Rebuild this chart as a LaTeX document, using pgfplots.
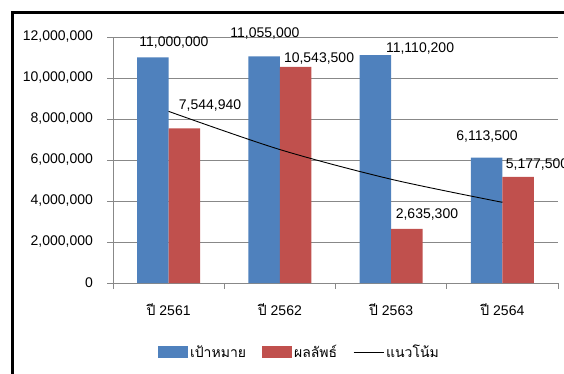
\documentclass[border=0pt]{standalone}
\usepackage{pgfplots}
\pgfplotsset{compat=1.18}
\usepackage{fontspec}
\setmainfont{Liberation Sans}
\newfontfamily\thaifont[Script=Thai]{Loma}
\definecolor{barblue}{HTML}{4F81BD}
\definecolor{barred}{HTML}{C0504D}
\definecolor{gridgray}{HTML}{888888}
\newcommand{\lblfont}{\fontsize{14bp}{16bp}\selectfont}
\begin{document}
\begin{tikzpicture}
\begin{axis}[
  anchor=south west,
  width=445bp, height=246bp, scale only axis,
  xmin=-0.5, xmax=3.5, ymin=0, ymax=12000000,
  clip=false,
  axis x line*=bottom, axis y line*=left,
  axis line style={gridgray, line width=0.9bp, -},
  xtick={-0.5,0.5,1.5,2.5,3.5},
  x tick label as interval,
  xticklabels={{{\thaifont ปี} 2561},{{\thaifont ปี} 2562},{{\thaifont ปี} 2563},{{\thaifont ปี} 2564}},
  x tick label style={yshift=-12bp},
  ytick={0,2000000,4000000,6000000,8000000,10000000,12000000},
  scaled y ticks=false,
  /pgf/number format/assume math mode=true,
  y tick label style={/pgf/number format/fixed,/pgf/number format/1000 sep={,}, xshift=-11bp},
  tick label style={font=\lblfont},
  tick align=outside,
  major tick length=5.5bp,
  tick style={gridgray, line width=0.9bp},
  ymajorgrids,
  grid style={gridgray, line width=0.9bp},
  legend style={at={(0.419,-0.2805)}, anchor=center, draw=none, fill=none,
    legend columns=3, font=\thaifont\lblfont,
    /tikz/every even column/.append style={column sep=14bp}},
]
\addplot[ybar, bar width=31.5bp, bar shift=-15.75bp, fill=barblue, draw=none,
  legend image code/.code={\fill[barblue] (0bp,-6bp) rectangle (30bp,6bp);}]
  coordinates {(0,11000000) (1,11055000) (2,11110200) (3,6113500)};
\addlegendentry{เป้าหมาย}
\addplot[ybar, bar width=31.5bp, bar shift=15.75bp, fill=barred, draw=none,
  legend image code/.code={\fill[barred] (0bp,-6bp) rectangle (30bp,6bp);}]
  coordinates {(0,7544940) (1,10543500) (2,2635300) (3,5177500)};
\addlegendentry{ผลลัพธ์}
\addplot[black, line width=0.9bp, smooth, mark=none,
  legend image code/.code={\draw[black, line width=0.9bp] (0bp,0bp) -- (30bp,0bp);}]
  coordinates {(0,8371800) (1,6509500) (2,5061400) (3,3935500)};
\addlegendentry{แนวโน้ม}
\node[font=\lblfont] at (axis cs:0.048,11710000) {11,000,000};
\node[font=\lblfont] at (axis cs:0.866,12150000) {11,055,000};
\node[font=\lblfont] at (axis cs:1.352,10930000) {10,543,500};
\node[font=\lblfont] at (axis cs:0.372,8680000) {7,544,940};
\node[font=\lblfont] at (axis cs:2.26,11460000) {11,110,200};
\node[font=\lblfont] at (axis cs:2.322,3320000) {2,635,300};
\node[font=\lblfont] at (axis cs:2.862,7170000) {6,113,500};
\node[font=\lblfont] at (axis cs:3.311,5760000) {5,177,500};
\end{axis}
\draw[black, line width=3bp] (-100bp,-120bp) -- (-100bp,270bp) -- (520bp,270bp);
\pgfresetboundingbox
\useasboundingbox (-113bp,-91bp) rectangle (451bp,283bp);
\end{tikzpicture}
\end{document}
